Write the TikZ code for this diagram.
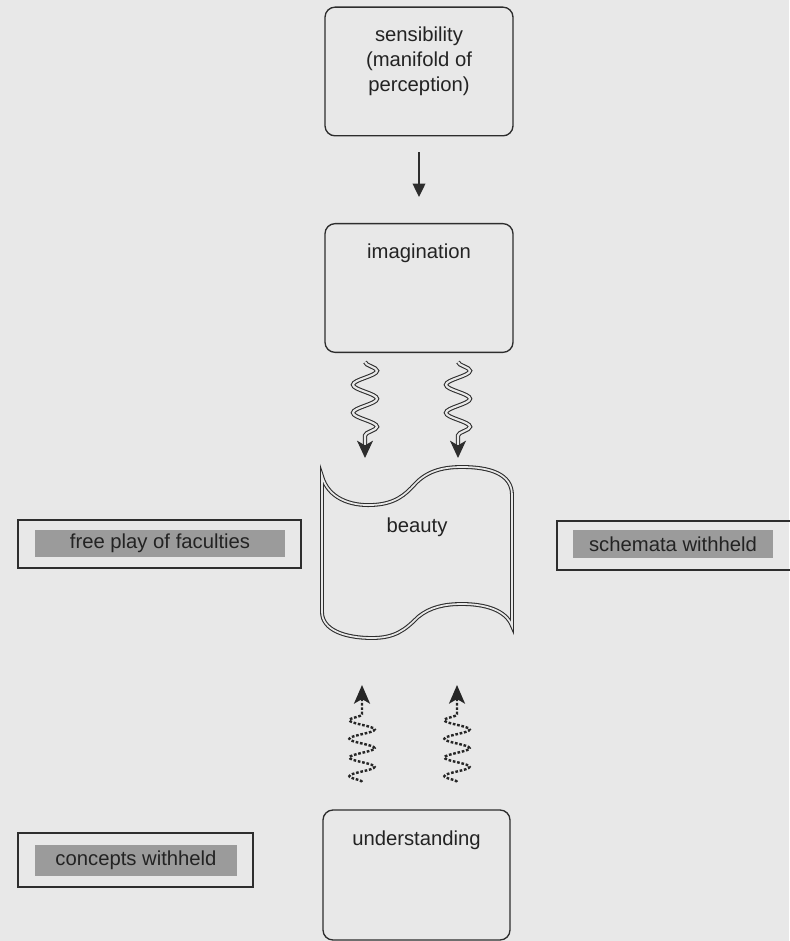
\documentclass[tikz,border=0pt]{standalone}
\usepackage{fontspec}
\setmainfont{Liberation Sans}
\usetikzlibrary{arrows.meta,positioning,decorations.pathmorphing}
\definecolor{bgcol}{RGB}{232,232,232}
\definecolor{linecol}{RGB}{45,45,45}
\definecolor{txtcol}{RGB}{35,35,35}
\definecolor{tagcol}{RGB}{155,155,155}
\tikzset{
  faculty/.style={draw=linecol, line width=1pt, rounded corners=7.5pt, minimum width=141pt, minimum height=96.5pt},
  facname/.style={text=txtcol, align=center, font=\fontsize{15.2}{18.5}\selectfont},
  tagbox/.style={draw=linecol, line width=1pt},
  tagtext/.style={fill=tagcol, text=txtcol, inner sep=0pt, font=\fontsize{15.2}{18}\selectfont},
  coil/.style={decorate, decoration={snake, amplitude=9pt, segment length=21pt, post length=14pt}},
}
\begin{document}
\begin{tikzpicture}[x=0.75pt, y=-0.75pt]
                \fill[bgcol] (0,0) rectangle (789,941);
                \useasboundingbox (0,0) rectangle (789,941);
                \node[faculty] (sens) at (419,71.5) {};
                \node[faculty] (imag) at (419,288) {};
                \node[faculty, minimum width=140.25pt, minimum height=97.5pt] (under) at (416.5,875) {};
                \node[facname, below=12pt of sens.north] {sensibility\\(manifold of\\perception)};
                \node[facname, below=12pt of imag.north] {imagination};
                \node[facname, below=12.5pt of under.north] {understanding};
                \draw[linecol, line width=1pt, -{Triangle[length=10pt, width=9.5pt]}, shorten <=12pt, shorten >=19.5pt] (sens) -- (imag);
                \draw[linecol, line width=0.8pt, double=bgcol, double distance=1.3pt]
                    (322,476) -- (322,612)
                    .. controls (322,630) and (345,638) .. (372,638)
                    .. controls (395,638) and (405,630) .. (418,617)
                    .. controls (430,607) and (445,604) .. (462,604)
                    .. controls (485,604) and (506,610) .. (512,626)
                    -- (512,495)
                    .. controls (512,474) and (490,467) .. (462,467)
                    .. controls (445,467) and (428,470) .. (415,484)
                    .. controls (405,495) and (395,504) .. (372,505)
                    .. controls (350,506) and (328,498) .. cycle;
                \node[facname] (beauty) at (417,527) {beauty};
                \coordinate (D_1) at (365,362);
                \coordinate (D_2) at (458,362);
                \coordinate (B_1) at (365,458);
                \coordinate (B_2) at (458,458);
                \coordinate (U_1) at (362,782);
                \coordinate (U_2) at (457,782);
                \coordinate (T_1) at (362,685);
                \coordinate (T_2) at (457,685);
                \draw[coil, linecol, line width=0.8pt, double=bgcol, double distance=1.6pt, -{Stealth[length=13pt, width=12pt, inset=3.5pt]}] (D_1) -- (B_1);
                \draw[coil, linecol, line width=0.8pt, double=bgcol, double distance=1.6pt, -{Stealth[length=13pt, width=12pt, inset=3.5pt]}] (D_2) -- (B_2);
                \draw[coil, decoration={segment length=14pt, amplitude=9.5pt, post length=18pt}, black!85, line width=1.8pt, dash pattern=on 2pt off 1.3pt, -{Stealth[length=14pt, width=12pt, inset=3.5pt]}] (U_1) -- (T_1);
                \draw[coil, decoration={segment length=14pt, amplitude=9.5pt, post length=18pt}, black!85, line width=1.8pt, dash pattern=on 2pt off 1.3pt, -{Stealth[length=14pt, width=12pt, inset=3.5pt]}] (U_2) -- (T_2);
                \node[tagbox, minimum width=212.25pt, minimum height=36pt] (freeplay) at (159.5,544) {};
                \node[tagtext, minimum width=187.5pt, minimum height=20.25pt] (freeplaytxt) at (160,543.5) {free play of faculties};
                \node[tagbox, minimum width=182.25pt, minimum height=36.75pt] (schemata) at (678.5,545.5) {};
                \node[tagtext, minimum width=150pt, minimum height=21pt] (schematatxt) at (673,544) {schemata withheld};
                \node[tagbox, minimum width=176.25pt, minimum height=40.5pt] (concepts) at (135.5,860) {};
                \node[tagtext, minimum width=151.5pt, minimum height=23.25pt] (conceptstxt) at (136,860.5) {concepts withheld};
            \end{tikzpicture}
\end{document}
